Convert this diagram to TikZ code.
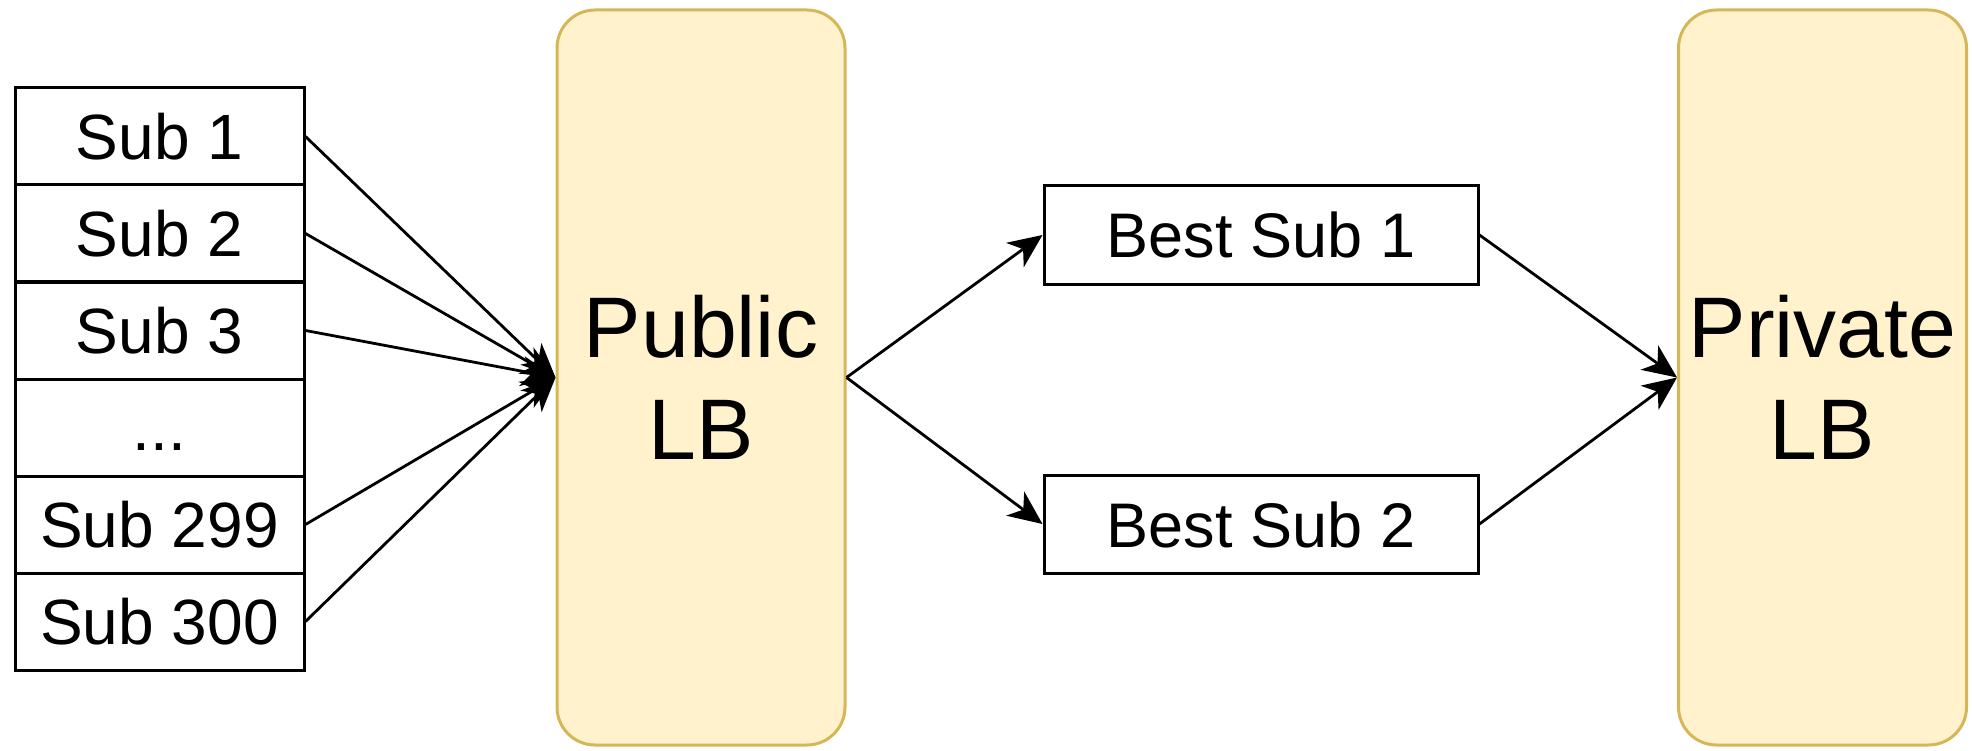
\documentclass[tikz,border=0pt]{standalone}
\usepackage{fontspec}
\setmainfont{Liberation Sans}
\usetikzlibrary{arrows.meta}
\definecolor{lbfill}{HTML}{FFF2CC}
\definecolor{lbdraw}{HTML}{D6B656}
\tikzset{
  x=1pt,y=-1pt,
  subbox/.style={draw=black,line width=3pt,fill=white,minimum width=289pt,minimum height=97pt,
    inner sep=0pt,text height=46pt,text depth=0pt,font=\fontsize{64}{76}\selectfont},
  bestbox/.style={draw=black,line width=3pt,fill=white,minimum width=434pt,minimum height=98pt,
    inner sep=0pt,text height=46pt,text depth=0pt,font=\fontsize{63}{76}\selectfont},
  lbbox/.style={draw=lbdraw,fill=lbfill,line width=3pt,rounded corners=38pt,minimum width=288pt,
    minimum height=735pt,inner sep=0pt,align=center,font=\fontsize{86}{102}\selectfont},
  conn/.style={line width=2.8pt,-{Stealth[length=34pt,width=30pt,inset=10pt]}},
}
\begin{document}
\begin{tikzpicture}
\useasboundingbox (0,0) rectangle (1972,751);
\node[subbox] (s1) at (159.5,136.5) {Sub 1};
\node[subbox] (s2) at (159.5,233.5) {Sub 2};
\node[subbox] (s3) at (159.5,330.5) {Sub 3};
\node[subbox] (sd) at (159.5,427.5) {...};
\node[subbox] (s299) at (159.5,524.5) {Sub 299};
\node[subbox] (s300) at (159.5,621.5) {Sub 300};
\node[lbbox] (pub) at (701,377.5) {Public\\LB};
\node[lbbox] (priv) at (1822.5,377.5) {Private\\LB};
\node[bestbox] (b1) at (1261,235) {Best Sub 1};
\node[bestbox] (b2) at (1261,524) {Best Sub 2};
\foreach \s in {s1,s2,s3,s299,s300}{
  \draw[conn] (\s.east) -- (pub.west);
}
\draw[conn] (pub.east) -- (b1.west);
\draw[conn] (pub.east) -- (b2.west);
\draw[conn] (b1.east) -- (priv.west);
\draw[conn] (b2.east) -- (priv.west);
\end{tikzpicture}
\end{document}
